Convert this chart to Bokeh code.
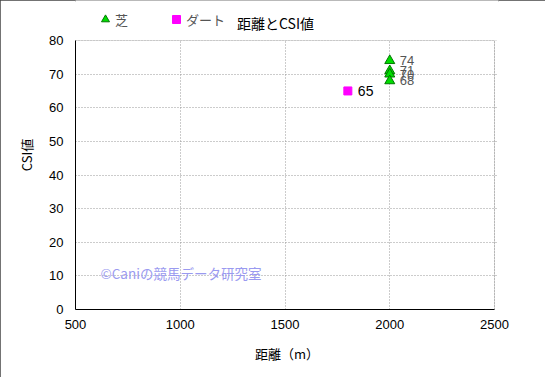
from bokeh.plotting import figure
from bokeh.models import (ColumnDataSource, LabelSet, Label, Legend, LegendItem,
                          FixedTicker, Range1d, BoxAnnotation)
from bokeh.core.properties import value
from bokeh.embed import file_html
from bokeh.resources import INLINE

# data
turf_dist = [2000, 2000, 2000, 2000]
turf_csi = [74, 71, 70, 68]
dirt_dist = [1800]
dirt_csi = [65]
x_ticks = [500, 1000, 1500, 2000, 2500]
y_ticks = [0, 10, 20, 30, 40, 50, 60, 70, 80]
X_MIN, X_MAX = 500, 2500
Y_MIN, Y_MAX = 0, 80

JP = "Noto Sans CJK JP"
NUM = "Liberation Sans"

W, H = 545, 377
LEFT, RIGHT_PX, TOP_PX, BOTTOM_PX = 75, 494, 40, 309   # plot-area pixel box
EXTRA_R = 4
frame_w = RIGHT_PX - LEFT + EXTRA_R
frame_h = BOTTOM_PX  # frame reaches the canvas top
x_end = X_MIN + (X_MAX - X_MIN) * frame_w / (RIGHT_PX - LEFT)
y_end = Y_MIN + (Y_MAX - Y_MIN) * frame_h / (BOTTOM_PX - TOP_PX)

p = figure(width=W, height=H, output_backend="svg", toolbar_location=None,
           x_range=Range1d(X_MIN, x_end), y_range=Range1d(Y_MIN, y_end),
           min_border_left=LEFT, min_border_right=W - RIGHT_PX - EXTRA_R,
           min_border_top=0, min_border_bottom=H - BOTTOM_PX)
p.styles = {"outline": "2px solid #444", "outline-offset": "-2px"}

p.outline_line_color = None
p.background_fill_color = "white"
p.border_fill_color = "white"

for ax in (p.xaxis[0], p.yaxis[0]):
    ax.major_tick_line_color = None
    ax.minor_tick_line_color = None
    ax.major_tick_out = 0
    ax.major_tick_in = 0
    ax.minor_tick_out = 0
    ax.minor_tick_in = 0
    ax.axis_line_color = "black"
    ax.axis_line_width = 1
    ax.major_label_text_font = NUM
    ax.major_label_text_font_size = "13px"
    ax.major_label_text_color = "black"
    ax.axis_label_text_font = JP
    ax.axis_label_text_font_size = "13px"
    ax.axis_label_text_font_style = "normal"
    ax.axis_label_text_color = "black"

p.xaxis.ticker = FixedTicker(ticks=x_ticks)
p.yaxis.ticker = FixedTicker(ticks=y_ticks)
p.xaxis.bounds = (X_MIN, X_MAX)
p.yaxis.bounds = (Y_MIN, Y_MAX)
p.xaxis.axis_label = "距離（m）"
p.yaxis.axis_label = "CSI値"
p.xaxis.major_label_standoff = 10
p.xaxis.axis_label_standoff = 12
p.yaxis.major_label_standoff = 12
p.yaxis.axis_label_standoff = 10

p.grid.grid_line_color = "#999999"
p.grid.grid_line_dash = "1 2"
p.grid.grid_line_width = 1

# white mask above the plot area and grey frame on top/right
p.add_layout(BoxAnnotation(bottom=Y_MAX, fill_color="white", fill_alpha=1,
                           line_color=None, level="underlay", propagate_hover=False))
p.add_layout(BoxAnnotation(left=X_MIN, right=X_MAX, bottom=Y_MIN, top=Y_MAX,
                           fill_alpha=0, line_color="#888888", line_width=1, level="underlay"))

turf_src = ColumnDataSource(dict(x=turf_dist, y=turf_csi, t=[str(v) for v in turf_csi]))
dirt_src = ColumnDataSource(dict(x=dirt_dist, y=dirt_csi, t=[str(v) for v in dirt_csi]))

r_turf = p.scatter("x", "y", source=turf_src, marker="triangle", size=10,
                   fill_color="#00dd00", line_color="#007700", line_width=1)
r_dirt = p.scatter("x", "y", source=dirt_src, marker="square", size=8,
                   fill_color="#ff00ff", line_color="#ff00ff")

p.add_layout(LabelSet(x="x", y="y", text="t", source=turf_src, x_offset=10, y_offset=0,
                      text_baseline="middle",
                      text_font=value(NUM), text_font_size="13px", text_color="#555555"))
p.add_layout(LabelSet(x="x", y="y", text="t", source=dirt_src, x_offset=10, y_offset=0,
                      text_baseline="middle",
                      text_font=value(NUM), text_font_size="14px", text_color="black"))

legend = Legend(items=[LegendItem(label="芝", renderers=[r_turf]),
                       LegendItem(label="ダート", renderers=[r_dirt])],
                orientation="horizontal", location=(95 - LEFT, BOTTOM_PX - 29),
                glyph_width=20, glyph_height=20, label_standoff=0, spacing=31,
                padding=0, margin=0, border_line_color=None, background_fill_alpha=0,
                label_text_font=JP, label_text_font_size="13px", label_text_color="#555555",
                label_height=20, label_text_baseline="middle")
p.add_layout(legend)

p.add_layout(Label(x=275 - LEFT, y=BOTTOM_PX - 22, x_units="screen", y_units="screen",
                   text="距離とCSI値", text_font=JP, text_font_size="14px",
                   text_color="black", text_align="center", text_baseline="middle"))

p.add_layout(Label(x=100 - LEFT, y=BOTTOM_PX - 272, x_units="screen", y_units="screen",
                   text="©Caniの競馬データ研究室",
                   text_font=JP, text_font_size="13.5px", text_color="#9a9af0",
                   text_align="left", text_baseline="middle"))

open("out.html", "w").write(file_html(p, INLINE))
